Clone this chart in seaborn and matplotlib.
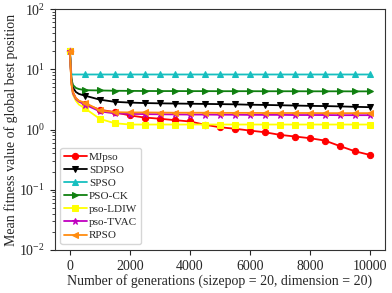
import pandas as pd
import seaborn as sns
import matplotlib
matplotlib.use('Agg')
import matplotlib.pyplot as plt

# generations at which values are recorded (markers every 500)
gens = [0, 50, 100, 200, 300] + list(range(500, 10001, 500))

mjpso = [20, 6.0, 4.2, 3.3, 3.0, 2.65, 2.13, 1.94, 1.71, 1.58, 1.51, 1.43, 1.36, 1.2, 1.09,
         1.03, 0.96, 0.90, 0.815, 0.765, 0.717, 0.655, 0.53, 0.435, 0.378]
sdpso = [20, 7.0, 5.0, 4.2, 3.9, 3.65, 3.13, 2.88, 2.8, 2.75, 2.72, 2.7, 2.68, 2.66, 2.64,
         2.62, 2.58, 2.56, 2.53, 2.5, 2.47, 2.45, 2.42, 2.38, 2.35]
spso = [20, 8.3, 8.2, 8.2, 8.2, 8.2, 8.2, 8.2, 8.2, 8.2, 8.2, 8.2, 8.2, 8.2, 8.2,
        8.2, 8.2, 8.2, 8.2, 8.2, 8.2, 8.2, 8.2, 8.2, 8.2]
psock = [20, 7.0, 5.5, 4.9, 4.7, 4.5, 4.45, 4.4, 4.38, 4.36, 4.35, 4.35, 4.34, 4.34, 4.33,
         4.33, 4.33, 4.32, 4.32, 4.32, 4.31, 4.31, 4.31, 4.3, 4.3]
ldiw = [20, 5.5, 3.8, 3.0, 2.6, 2.25, 1.5, 1.27, 1.21, 1.21, 1.21, 1.21, 1.21, 1.21, 1.21,
        1.21, 1.21, 1.21, 1.21, 1.21, 1.21, 1.21, 1.21, 1.21, 1.21]
tvac = [20, 6.0, 4.0, 3.2, 2.9, 2.6, 2.0, 1.85, 1.82, 1.8, 1.79, 1.78, 1.77, 1.77, 1.76,
        1.76, 1.75, 1.75, 1.75, 1.74, 1.74, 1.74, 1.73, 1.73, 1.73]
rpso = [20, 6.0, 4.2, 3.3, 3.0, 2.8, 2.07, 1.94, 1.92, 1.92, 1.91, 1.9, 1.9, 1.9, 1.89,
        1.89, 1.89, 1.88, 1.88, 1.88, 1.88, 1.87, 1.87, 1.87, 1.87]

names = ['MJpso', 'SDPSO', 'SPSO', 'PSO-CK', 'pso-LDIW', 'pso-TVAC', 'RPSO']
series = [mjpso, sdpso, spso, psock, ldiw, tvac, rpso]
colors = ['#ff0000', '#000000', '#17bfbf', '#108010', '#ffff00', '#c000c0', '#ff8c10']
markers = ['o', 'v', '^', '>', 's', '*', '<']

sns.set_style('ticks')
plt.rcParams['font.family'] = ['Liberation Serif', 'DejaVu Serif']
plt.rcParams['mathtext.fontset'] = 'stix'

fig = plt.figure(figsize=(3.92, 2.93), dpi=100)
ax = fig.add_axes([0.140, 0.147, 0.842, 0.822])

mark_idx = [i for i, g in enumerate(gens) if g % 500 == 0]
for name, vals, c, m in zip(names, series, colors, markers):
    df = pd.DataFrame({'gen': gens, 'val': vals})
    sns.lineplot(data=df, x='gen', y='val', ax=ax, color=c, marker=m, markersize=4.5,
                 markeredgecolor=c, linewidth=1.3, markevery=mark_idx, label=name)

ax.set_yscale('log')
ax.set_ylim(1e-2, 1e2)
ax.set_xlim(-500, 10500)
ax.set_xticks([0, 2000, 4000, 6000, 8000, 10000])
ax.tick_params(labelsize=10)
ax.set_xlabel('Number of generations (sizepop = 20, dimension = 20)', fontsize=10, labelpad=1)
ax.set_ylabel('Mean fitness value of global best position', fontsize=10, labelpad=1)
for s in ax.spines.values():
    s.set_color('#333333')

ax.legend(loc='lower left', fontsize=8, labelspacing=0.3, handlelength=2.0,
          handletextpad=0.2, borderpad=0.35, borderaxespad=0.5, frameon=True)

fig.savefig('out.png', dpi=100)
